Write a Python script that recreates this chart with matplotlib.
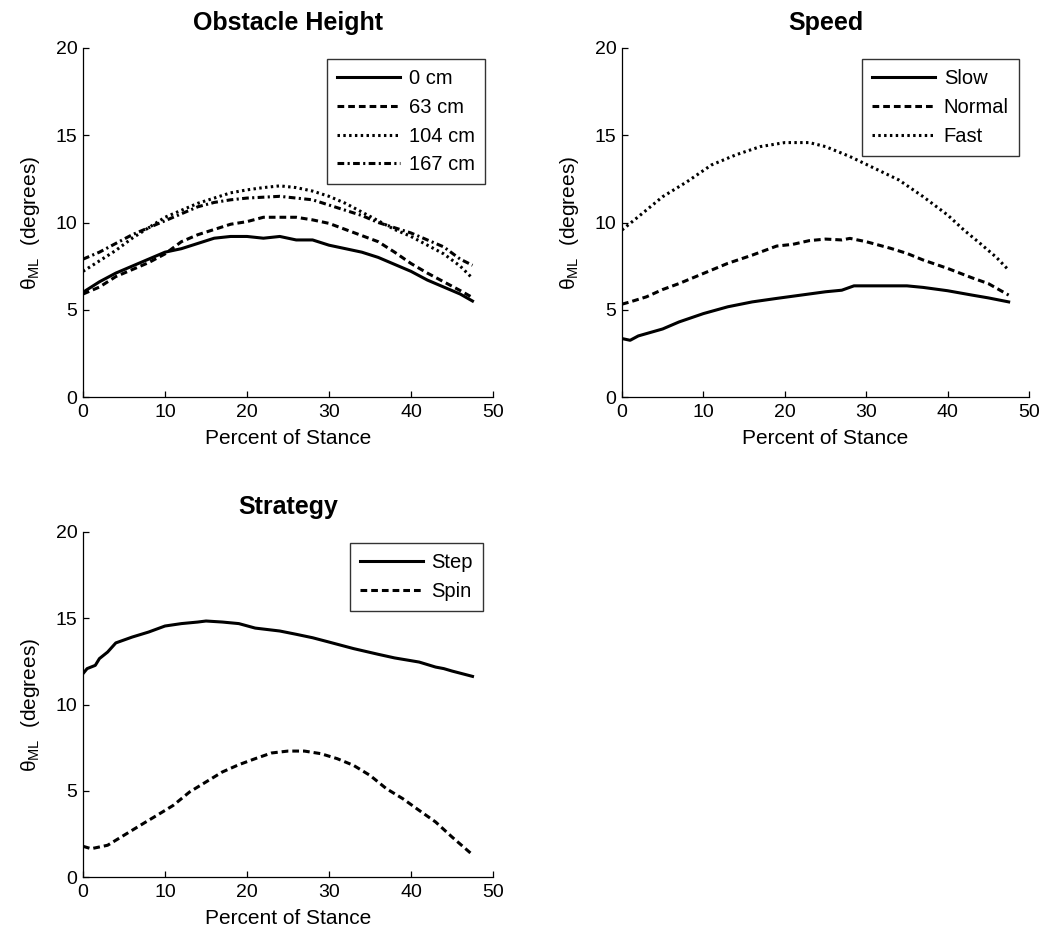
import matplotlib
matplotlib.use("Agg")
import matplotlib.pyplot as plt

plt.rcParams['font.family'] = ['Liberation Sans', 'DejaVu Sans']
plt.rcParams['mathtext.fontset'] = 'custom'
plt.rcParams['mathtext.rm'] = 'Liberation Sans'
plt.rcParams['mathtext.it'] = 'Liberation Sans'

# ---- Obstacle Height ----
oh_x = [0, 2, 4, 6, 8, 10, 12, 14, 16, 18, 20, 22, 24, 26, 28, 30, 32, 34, 36, 38, 40, 42, 44, 46, 47.5]
oh_0 = [6.0, 6.6, 7.1, 7.5, 7.9, 8.3, 8.5, 8.8, 9.1, 9.2, 9.2, 9.1, 9.2, 9.0, 9.0, 8.7, 8.5, 8.3, 8.0, 7.6, 7.2, 6.7, 6.3, 5.9, 5.5]
oh_63 = [5.9, 6.3, 6.9, 7.3, 7.7, 8.2, 8.9, 9.3, 9.6, 9.9, 10.05, 10.3, 10.3, 10.3, 10.15, 9.95, 9.6, 9.25, 8.9, 8.3, 7.65, 7.1, 6.6, 6.1, 5.7]
oh_104 = [7.2, 7.8, 8.4, 9.1, 9.7, 10.3, 10.7, 11.1, 11.4, 11.7, 11.87, 12.0, 12.1, 12.0, 11.8, 11.5, 11.1, 10.6, 10.1, 9.6, 9.2, 8.7, 8.2, 7.5, 6.8]
oh_167 = [7.9, 8.3, 8.8, 9.3, 9.7, 10.1, 10.5, 10.9, 11.15, 11.3, 11.4, 11.45, 11.5, 11.4, 11.3, 11.0, 10.7, 10.4, 10.0, 9.7, 9.4, 9.0, 8.6, 7.9, 7.55]
oh_labels = ['0 cm', '63 cm', '104 cm', '167 cm']

# ---- Speed ----
sp_x = [0, 1, 2, 5, 7, 10, 13, 16, 19, 22, 25, 27, 28.5, 30, 35, 37, 40, 43, 45, 47.5]
sp_slow = [3.35, 3.25, 3.5, 3.9, 4.3, 4.78, 5.17, 5.45, 5.65, 5.84, 6.03, 6.12, 6.37, 6.37, 6.37, 6.28, 6.09, 5.84, 5.68, 5.45]
spn_x = [0, 1, 3, 5, 7, 10, 13, 16, 19, 21, 23, 25, 27, 28, 30, 33, 35, 37, 40, 43, 45, 47.5]
sp_normal = [5.32, 5.45, 5.74, 6.16, 6.5, 7.08, 7.66, 8.13, 8.65, 8.75, 8.96, 9.05, 9.0, 9.09, 8.9, 8.52, 8.23, 7.85, 7.37, 6.83, 6.5, 5.84]
spf_x = [0, 2, 5, 8, 11, 14, 17, 20, 23, 25, 28, 31, 34, 37, 40, 42, 44, 46, 47.5]
sp_fast = [9.57, 10.33, 11.48, 12.34, 13.3, 13.88, 14.35, 14.58, 14.58, 14.35, 13.78, 13.11, 12.44, 11.48, 10.43, 9.57, 8.8, 8.0, 7.27]
sp_labels = ['Slow', 'Normal', 'Fast']

# ---- Strategy ----
st_x = [0, 0.5, 1.5, 2, 3, 4, 6, 8, 10, 12, 14, 15, 17, 19, 21, 24, 26, 28, 30, 33, 36, 38, 41, 43, 44, 45, 47.5]
st_step = [11.79, 12.08, 12.27, 12.66, 13.04, 13.57, 13.91, 14.2, 14.55, 14.69, 14.78, 14.84, 14.78, 14.69, 14.43, 14.26, 14.07, 13.87, 13.62, 13.24, 12.91, 12.7, 12.46, 12.17, 12.08, 11.94, 11.63]
sn_x = [0, 1, 3, 5, 7, 9, 11, 13, 15, 17, 19, 21, 23, 25, 27, 29, 31, 33, 35, 37, 39, 41, 43, 45, 47.5]
st_spin = [1.78, 1.64, 1.84, 2.42, 3.0, 3.57, 4.15, 4.93, 5.51, 6.09, 6.51, 6.86, 7.19, 7.3, 7.3, 7.15, 6.86, 6.47, 5.89, 5.12, 4.54, 3.86, 3.19, 2.32, 1.29]
st_labels = ['Step', 'Spin']

W, H = 1046, 939
fig = plt.figure(figsize=(W / 100, H / 100), dpi=100)

LW = 2.2
styles = {
    'solid': dict(linestyle='-'),
    'dash': dict(linestyle=(0, (2.2, 1.3))),
    'dot': dict(linestyle=(0, (0.8, 1.1))),
    'dashdot': dict(linestyle=(0, (2.2, 1.1, 0.7, 1.1))),
}


def setup(ax, title):
    ax.set_xlim(0, 50)
    ax.set_ylim(0, 20)
    ax.set_xticks([0, 10, 20, 30, 40, 50])
    ax.set_yticks([0, 5, 10, 15, 20])
    for s in ['top', 'right']:
        ax.spines[s].set_visible(False)
    for s in ['left', 'bottom']:
        ax.spines[s].set_linewidth(0.9)
    ax.tick_params(direction='in', length=4, width=0.9, labelsize=14)
    ax.tick_params(axis='x', pad=5)
    ax.tick_params(axis='y', pad=4)
    ax.set_title(title, fontsize=18, fontweight='bold', pad=13)
    ax.set_xlabel('Percent of Stance', fontsize=15, labelpad=6)
    ax.set_ylabel(r'$\theta_{\mathrm{ML}}$  (degrees)', fontsize=15, labelpad=10)


def legend(ax, loc_box):
    lg = ax.legend(loc='upper right', bbox_to_anchor=loc_box, fontsize=14.5, frameon=True,
                   fancybox=False, edgecolor='black', handlelength=3.1, handletextpad=0.45,
                   borderpad=0.5, labelspacing=0.48, borderaxespad=0)
    lg.get_frame().set_linewidth(1.0)


def fx(px):
    return px / W


def fy(py):
    return 1 - py / H


# Axes positions (pixel-derived)
ax1 = fig.add_axes([fx(83), fy(397), fx(493 - 83), (397 - 48) / H])
ax2 = fig.add_axes([fx(622), fy(397), fx(1029 - 622), (397 - 48) / H])
ax3 = fig.add_axes([fx(83), fy(877), fx(493 - 83), (877 - 532) / H])

setup(ax1, 'Obstacle Height')
ax1.plot(oh_x, oh_0, color='black', lw=LW, label=oh_labels[0], **styles['solid'])
ax1.plot(oh_x, oh_63, color='black', lw=LW, label=oh_labels[1], **styles['dash'])
ax1.plot(oh_x, oh_104, color='black', lw=LW, label=oh_labels[2], **styles['dot'])
ax1.plot(oh_x, oh_167, color='black', lw=LW, label=oh_labels[3], **styles['dashdot'])
legend(ax1, (0.98, 0.968))

setup(ax2, 'Speed')
ax2.plot(sp_x, sp_slow, color='black', lw=LW, label=sp_labels[0], **styles['solid'])
ax2.plot(spn_x, sp_normal, color='black', lw=LW, label=sp_labels[1], **styles['dash'])
ax2.plot(spf_x, sp_fast, color='black', lw=LW, label=sp_labels[2], **styles['dot'])
legend(ax2, (0.975, 0.968))

setup(ax3, 'Strategy')
ax3.plot(st_x, st_step, color='black', lw=LW, label=st_labels[0], **styles['solid'])
ax3.plot(sn_x, st_spin, color='black', lw=LW, label=st_labels[1], **styles['dash'])
legend(ax3, (0.976, 0.968))

fig.savefig('out.png', dpi=100)
